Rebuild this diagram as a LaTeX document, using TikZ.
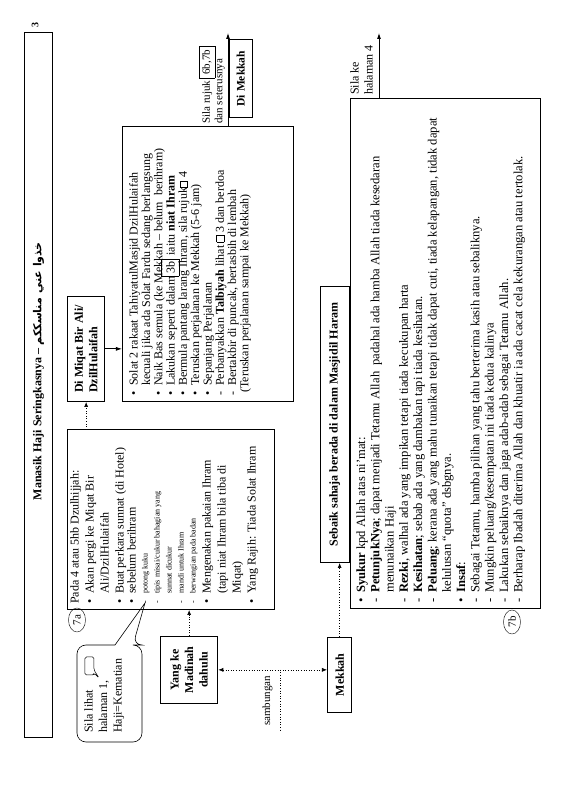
\documentclass[tikz,border=0pt]{standalone}
\usepackage{fontspec}
\setmainfont{Liberation Serif}
\newfontfamily\arabicfont[Script=Arabic]{DejaVu Sans}
\TeXXeTstate=1
\usetikzlibrary{arrows.meta,positioning,shapes.geometric}
\newcommand{\titik}[1]{\par\noindent\hangindent=10pt\hangafter=1\makebox[10pt][l]{\textbullet}#1}
\newcommand{\sengkang}[1]{\par\noindent\hangindent=10pt\hangafter=1\makebox[10pt][l]{-}#1}
\newcommand{\kecil}{\fontsize{8}{12}\selectfont}
\newcommand{\petak}{{\fboxsep=0pt\framebox[7pt]{\rule{0pt}{7pt}}}}
\newcommand{\rujukan}[1]{\smash{\fboxsep=2.5pt\fbox{\rule[-2pt]{0pt}{13pt}#1}}}
\newcommand{\isi}[3]{\begin{minipage}[c][#2][t]{#1}\raggedright#3\end{minipage}}

\begin{document}
\begin{tikzpicture}[x=1pt,y=1pt,rotate=90,transform shape,
  kotak/.style={draw,line width=0.6pt,inner xsep=6pt,anchor=north west},
  tebal/.style={draw,line width=1.3pt,font=\bfseries\fontsize{12}{14.5}\selectfont,align=center,inner sep=2pt},
  bulat/.style={draw,ellipse,inner sep=0.5pt,minimum width=24pt,minimum height=17pt,font=\fontsize{11}{12}\selectfont},
  panah/.style={-{Latex[length=6pt,width=4pt]},line width=0.8pt},
  putus/.style={-{Latex[length=5pt,width=4pt]},dotted,line width=0.6pt},
  duaarah/.style={{Latex[length=5pt,width=4pt]}-{Latex[length=5pt,width=4pt]},dotted,line width=0.6pt}
]
\useasboundingbox (0,0) rectangle (793,573);

\node[draw,line width=0.8pt,minimum width=705pt,minimum height=28pt,anchor=south west,
  font=\bfseries\fontsize{12}{14}\selectfont] (tajuk) at (55,520)
  {\hspace*{28pt}Manasik Haji Seringkasnya -- {\arabicfont\fontsize{11}{14}\selectfont\beginR خذوا عني مناسككم\endR}};
\node[font=\bfseries\fontsize{10}{12}\selectfont] (halaman) at (768,538) {3};

\node[tebal,align=left,minimum width=105pt,minimum height=37pt,anchor=north west] (miqat) at (391,506) {Di Miqat Bir Ali/\\DzilHulaifah};

\node[kotak,inner ysep=3pt,font=\fontsize{12}{15}\selectfont] (tujuhA) at (183,506) {\isi{168pt}{201pt}{%
  Pada 4 atau 5hb Dzulhijjah:
  \titik{Akan pergi ke Miqat Bir\newline Ali/DzilHulaifah}
  \titik{Buat perkara sunnat (di Hotel)}
  \titik{sebelum berihram}
  {\kecil
  \sengkang{potong kuku}
  \sengkang{tipis misai/cukur bahagian yang\newline sunnat dicukur}
  \sengkang{mandi untuk Ihram}
  \sengkang{berwangian pada badan}\par}
  \titik{Mengenakan pakaian Ihram\newline (tapi niat Ihram bila tiba di\newline Miqat)}
  \titik{Yang Rajih: Tiada Solat Ihram}}};
\node[bulat] (labelA) at (173,496) {7a};

\node[anchor=north west,align=left,inner sep=0pt,font=\fontsize{12}{14.5}\selectfont] (nota) at (60,489) {Sila lihat\\halaman 1,\\Haji=Kematian};
\coordinate (hujungnota) at (190,428);
\draw[line width=0.6pt,rounded corners=9pt] (148,458) -- (148,496) -- (51,496) -- (51,431) -- (148,431) -- (148,440) [sharp corners] -- (hujungnota) -- cycle;
\draw[line width=0.5pt,rounded corners=1.5pt] (118,479) -- (118,488) -- (136,488) -- (136,479) -- (123,479) -- (115,474) -- (120,479) -- cycle;

\node[tebal,minimum width=67pt,minimum height=57pt,anchor=north west] (yangke) at (89,413) {Yang ke\\Madinah\\dahulu};
\node[tebal,minimum width=75pt,minimum height=24pt,anchor=north west] (mekkah) at (80,246) {Mekkah};
\node[tebal,minimum width=276pt,minimum height=29pt,anchor=south west] (sebaik) at (230,223) {Sebaik sahaja berada di dalam Masjidil Haram};

\node[kotak,inner ysep=7pt,font=\fontsize{12}{12.3}\selectfont] (solat) at (391,451) {\isi{263pt}{157pt}{%
  \titik{Solat 2 rakaat TahiyatulMasjid DzilHulaifah\newline kecuali jika ada Solat Fardu sedang berlangsung}
  \titik{Naik Bas semula (ke Mekkah -- belum\ \ berihram)}
  \titik{Lakukan seperti dalam\rujukan{3b} iaitu \textbf{niat Ihram}}
  \titik{Bermula pantang larang Ihram, sila rujuk\petak\ 4}
  \titik{Teruskan perjalanan ke Mekkah (5-6 jam)}
  \titik{Sepanjang Perjalanan}
  \sengkang{Perbanyakkan \textbf{Talbiyah} lihat \petak\ 3 dan berdoa}
  \sengkang{Bertakbir di puncak, bertasbih di lembah}
  \par\hspace*{3pt}(Teruskan perjalanan sampai ke Mekkah)}};

\node[draw,line width=0.6pt,minimum width=78pt,minimum height=23pt,anchor=north west,
  font=\bfseries\fontsize{11.5}{13}\selectfont] (dimekkah) at (675,344) {Di Mekkah};

\node[kotak,inner ysep=6pt,font=\fontsize{12.6}{14.3}\selectfont] (tujuhB) at (184,223) {\isi{498pt}{178pt}{%
  \titik{\textbf{Syukur} kpd Allah atas ni'mat:}
  \sengkang{\textbf{PetunjukNya}; dapat menjadi Tetamu Allah\ \ padahal ada hamba Allah tiada kesedaran\newline menunaikan Haji}
  \sengkang{\textbf{Rezki}, walhal ada yang impikan tetapi tiada kecukupan harta}
  \sengkang{\textbf{Kesihatan}; sebab ada yang dambakan tapi tiada kesihatan.}
  \sengkang{\textbf{Peluang}; kerana ada yang mahu tunaikan tetapi tidak dapat cuti, tiada kelapangan, tidak dapat\newline kelulusan ``quota'' dsbgnya.}
  \titik{\textbf{Insaf}:}
  \sengkang{Sebagai Tetamu, hamba pilihan yang tahu berterima kasih atau sebaliknya.}
  \sengkang{Mungkin peluang/kesempatan ini tiada kedua kalinya}
  \sengkang{Lakukan sebaiknya dan jaga adab-adab sebagai Tetamu Allah.}
  \sengkang{Berharap Ibadah diterima Allah dan khuatir ia ada cacat cela kekurangan atau tertolak.}}};
\node[bulat] (labelB) at (171,61) {7b};

\draw[putus] (miqat.west -| tujuhA.east) -- (miqat.west);
\draw[panah] (miqat.south) -- (miqat.south |- solat.north);
\draw[putus] (yangke.east) -- (yangke.east -| tujuhA.west);
\draw[duaarah] (yangke.south) -- (yangke.south |- mekkah.north);
\path (yangke.south) -- (yangke.south |- mekkah.north) coordinate[pos=0.57] (sambung);
\draw[dotted,line width=0.6pt] (sambung) -- ++(-62,0) coordinate (hujung)
  node[midway,above=4pt,font=\fontsize{11}{12}\selectfont] (labelsambung) {sambungan};
\draw[putus] (mekkah.east) -- (mekkah.east -| sebaik.west);

\coordinate (atas1) at (760,345);
\draw[panah] (atas1 -| solat.east) -- (atas1);
\node[anchor=south west,align=left,inner sep=1pt,font=\fontsize{11}{12.5}\selectfont] (rujuk) at (668,347)
  {Sila rujuk \smash{\fbox{6b,7b}}\\dan seterusnya};
\coordinate (atas2) at (760,194);
\draw[panah] (atas2 -| tujuhB.east) -- (atas2);
\node[anchor=south west,align=left,inner sep=1pt,font=\fontsize{12}{14}\selectfont] (halaman4) at (697,199) {Sila ke\\halaman 4};
\end{tikzpicture}
\end{document}
